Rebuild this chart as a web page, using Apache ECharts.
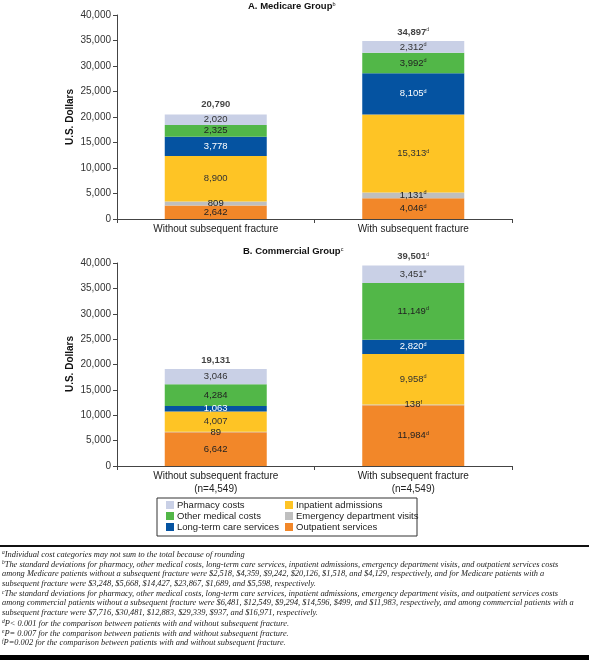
<!DOCTYPE html>
<html>
<head>
<meta charset="utf-8">
<script src="https://cdn.jsdelivr.net/npm/echarts@6/dist/echarts.min.js"></script>
<style>
html,body{margin:0;padding:0;background:#fff;}
#chart{width:589px;height:660px;}
</style>
</head>
<body>
<div id="chart"></div>
<script>
// ---- data ----
var categoriesA = ['Without subsequent fracture', 'With subsequent fracture'];
var categoriesB = ['Without subsequent fracture\n(n=4,549)', 'With subsequent fracture\n(n=4,549)'];
var seriesNames = ['Pharmacy costs', 'Other medical costs', 'Long-term care services', 'Inpatient admissions', 'Emergency department visits', 'Outpatient services'];
var yTicks = [0, 5000, 10000, 15000, 20000, 25000, 30000, 35000, 40000];
var yAxisTitle = 'U.S. Dollars';

// Medicare group
var medOutpatient = [2642, 4046];
var medED = [809, 1131];
var medInpatient = [8900, 15313];
var medLTC = [3778, 8105];
var medOther = [2325, 3992];
var medPharmacy = [2020, 2312];
var medTotal = [20790, 34897];
var medSupOutpatient = ['', 'd'];
var medSupED = ['', 'd'];
var medSupInpatient = ['', 'd'];
var medSupLTC = ['', 'd'];
var medSupOther = ['', 'd'];
var medSupPharmacy = ['', 'd'];
var medSupTotal = ['', 'd'];

// Commercial group
var comOutpatient = [6642, 11984];
var comED = [89, 138];
var comInpatient = [4007, 9958];
var comLTC = [1063, 2820];
var comOther = [4284, 11149];
var comPharmacy = [3046, 3451];
var comTotal = [19131, 39501];
var comSupOutpatient = ['', 'd'];
var comSupED = ['', 'f'];
var comSupInpatient = ['', 'd'];
var comSupLTC = ['', 'd'];
var comSupOther = ['', 'd'];
var comSupPharmacy = ['', 'e'];
var comSupTotal = ['', 'd'];

var footnotes = [
  ['a', 'Individual cost categories may not sum to the total because of rounding'],
  ['b', 'The standard deviations for pharmacy, other medical costs, long-term care services, inpatient admissions, emergency department visits, and outpatient services costs'],
  ['', 'among Medicare patients without a subsequent fracture were $2,518, $4,359, $9,242, $20,126, $1,518, and $4,129, respectively, and for Medicare patients with a'],
  ['', 'subsequent fracture were $3,248, $5,668, $14,427, $23,867, $1,689, and $5,598, respectively.'],
  ['c', 'The standard deviations for pharmacy, other medical costs, long-term care services, inpatient admissions, emergency department visits, and outpatient services costs'],
  ['', 'among commercial patients without a subsequent fracture were $6,481, $12,549, $9,294, $14,596, $499, and $11,983, respectively, and among commercial patients with a'],
  ['', 'subsequent fracture were $7,716, $30,481, $12,883, $29,339, $937, and $16,971, respectively.'],
  ['d', 'P< 0.001 for the comparison between patients with and without subsequent fracture.'],
  ['e', 'P= 0.007 for the comparison between patients with and without subsequent fracture.'],
  ['f', 'P=0.002 for the comparison between patients with and without subsequent fracture.']
];

// ---- styles ----
var colors = {
  'Pharmacy costs': '#c9d0e6',
  'Other medical costs': '#52b748',
  'Long-term care services': '#0553a1',
  'Inpatient admissions': '#fec425',
  'Emergency department visits': '#bfbfbf',
  'Outpatient services': '#f28729'
};
var FONT = 'Liberation Sans, Arial, sans-serif';
function fmt(v) { return v.toLocaleString('en-US'); }

var chart = echarts.init(document.getElementById('chart'), null, {renderer: 'canvas'});

function makeBar(name, values, sups, gi, labelColor) {
  return {
    name: name,
    type: 'bar',
    stack: 'g' + gi,
    xAxisIndex: gi, yAxisIndex: gi,
    barWidth: 102,
    data: values,
    itemStyle: {color: colors[name]},
    label: {
      show: true,
      position: 'inside',
      formatter: function (p) {
        var s = sups[p.dataIndex];
        return '{v|' + fmt(p.value) + '}' + (s ? '{s|' + s + '}' : '');
      },
      rich: {
        v: {fontSize: 9.5, fontFamily: FONT, color: labelColor, lineHeight: 11},
        s: {fontSize: 5.5, fontFamily: FONT, color: labelColor, verticalAlign: 'top', lineHeight: 11}
      }
    },
    emphasis: {disabled: true}
  };
}
function makeTotal(values, sups, gi) {
  return {
    name: 'Total',
    type: 'scatter',
    xAxisIndex: gi, yAxisIndex: gi,
    data: values,
    symbolSize: 1,
    itemStyle: {color: 'rgba(0,0,0,0)'},
    label: {
      show: true,
      position: 'top',
      distance: 3,
      formatter: function (p) {
        var s = sups[p.dataIndex];
        return '{v|' + fmt(p.value) + '}' + (s ? '{s|' + s + '}' : '');
      },
      rich: {
        v: {fontSize: 9.5, fontWeight: 'bold', fontFamily: FONT, color: '#111', lineHeight: 11},
        s: {fontSize: 5.5, fontFamily: FONT, color: '#111', verticalAlign: 'top', lineHeight: 11}
      }
    },
    emphasis: {disabled: true},
    z: 5
  };
}

function xAxis(gi, cats) {
  return {
    type: 'category', gridIndex: gi, data: cats,
    axisLine: {lineStyle: {color: '#444', width: 1}},
    axisTick: {show: true, length: 4, lineStyle: {color: '#444'}},
    axisLabel: {fontSize: 10, fontFamily: FONT, color: '#222', margin: 4, lineHeight: 13}
  };
}
function yAxis(gi) {
  return {
    type: 'value', gridIndex: gi, min: yTicks[0], max: yTicks[yTicks.length - 1], interval: 5000,
    axisLine: {show: true, lineStyle: {color: '#444', width: 1}},
    axisTick: {show: true, length: 4, lineStyle: {color: '#444'}},
    axisLabel: {fontSize: 10, fontFamily: FONT, color: '#333', margin: 6,
      formatter: function (v) { return fmt(v); }},
    splitLine: {show: false}
  };
}

var series = [
  makeBar('Outpatient services', medOutpatient, medSupOutpatient, 0, '#222'),
  makeBar('Emergency department visits', medED, medSupED, 0, '#222'),
  makeBar('Inpatient admissions', medInpatient, medSupInpatient, 0, '#333'),
  makeBar('Long-term care services', medLTC, medSupLTC, 0, '#fff'),
  makeBar('Other medical costs', medOther, medSupOther, 0, '#222'),
  makeBar('Pharmacy costs', medPharmacy, medSupPharmacy, 0, '#333'),
  makeTotal(medTotal, medSupTotal, 0),
  makeBar('Outpatient services', comOutpatient, comSupOutpatient, 1, '#222'),
  makeBar('Emergency department visits', comED, comSupED, 1, '#222'),
  makeBar('Inpatient admissions', comInpatient, comSupInpatient, 1, '#333'),
  makeBar('Long-term care services', comLTC, comSupLTC, 1, '#fff'),
  makeBar('Other medical costs', comOther, comSupOther, 1, '#222'),
  makeBar('Pharmacy costs', comPharmacy, comSupPharmacy, 1, '#333'),
  makeTotal(comTotal, comSupTotal, 1)
];

// graphics: y axis titles, legend box, rules, footnotes
var graphics = [
  {type: 'text', x: 70, y: 117, rotation: Math.PI / 2,
    style: {text: yAxisTitle, font: 'bold 10px ' + FONT, fill: '#111', align: 'center', verticalAlign: 'middle'}},
  {type: 'text', x: 70, y: 364, rotation: Math.PI / 2,
    style: {text: yAxisTitle, font: 'bold 10px ' + FONT, fill: '#111', align: 'center', verticalAlign: 'middle'}},
  {type: 'rect', shape: {x: 157, y: 498, width: 260, height: 38}, style: {fill: 'none', stroke: '#333', lineWidth: 1}},
  {type: 'rect', shape: {x: 0, y: 545, width: 589, height: 2}, style: {fill: '#111'}},
  {type: 'rect', shape: {x: 0, y: 655, width: 589, height: 5}, style: {fill: '#000'}}
];
var fy0 = 555, fstep = 9.8;
footnotes.forEach(function (f, i) {
  graphics.push({
    type: 'text', left: 2, top: fy0 + i * fstep - 5,
    style: {
      text: (f[0] ? '{s|' + f[0] + '}' : '') + '{t|' + f[1] + '}',
      rich: {
        s: {fontSize: 5.5, fontStyle: 'italic', fontFamily: 'Liberation Serif, serif', fill: '#222', verticalAlign: 'top', lineHeight: 10},
        t: {fontSize: 8.4, fontStyle: 'italic', fontFamily: 'Liberation Serif, serif', fill: '#222', lineHeight: 10}
      }
    }
  });
});

var legendCommon = {
  orient: 'vertical',
  top: 500,
  itemWidth: 8, itemHeight: 8, itemGap: 1,
  icon: 'rect',
  selectedMode: false,
  padding: 0,
  textStyle: {fontSize: 9.5, fontFamily: FONT, color: '#222', padding: [0, 0, 0, -2], lineHeight: 10}
};

chart.setOption({
  animation: false,
  backgroundColor: '#fff',
  title: [
    {text: 'A. Medicare Group{s|b}', left: 248, top: 1, padding: 0,
      textStyle: {fontSize: 9.5, fontWeight: 'bold', fontFamily: FONT, color: '#111', lineHeight: 11,
        rich: {s: {fontSize: 5.5, fontWeight: 'normal', fontFamily: FONT, color: '#111', verticalAlign: 'top', lineHeight: 11}}}},
    {text: 'B. Commercial Group{s|c}', left: 243, top: 246, padding: 0,
      textStyle: {fontSize: 9.5, fontWeight: 'bold', fontFamily: FONT, color: '#111', lineHeight: 11,
        rich: {s: {fontSize: 5.5, fontWeight: 'normal', fontFamily: FONT, color: '#111', verticalAlign: 'top', lineHeight: 11}}}}
  ],
  legend: [
    Object.assign({}, legendCommon, {left: 166, data: seriesNames.slice(0, 3)}),
    Object.assign({}, legendCommon, {left: 285, data: seriesNames.slice(3, 6)})
  ],
  grid: [
    {left: 117, right: 77, top: 15, height: 204},
    {left: 117, right: 77, top: 263, height: 203}
  ],
  xAxis: [xAxis(0, categoriesA), xAxis(1, categoriesB)],
  yAxis: [yAxis(0), yAxis(1)],
  series: series,
  graphic: graphics
});
</script>
</body>
</html>
